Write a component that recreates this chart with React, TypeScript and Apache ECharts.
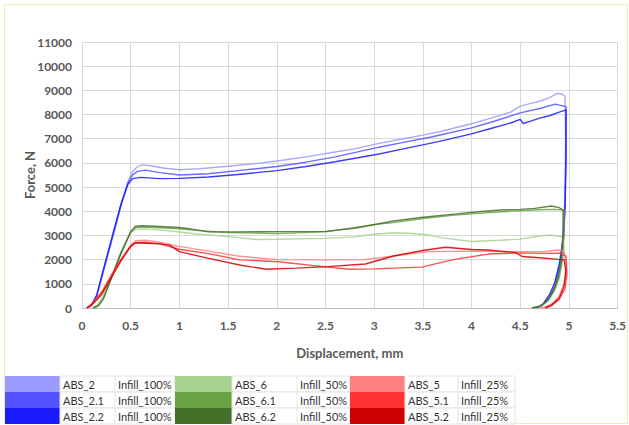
import React, { useEffect, useRef } from "react";
import * as echarts from "echarts";

// Force–displacement curves, [displacement mm, force N]
const abs2: number[][] = [
  [0.05, 0], [0.1, 120], [0.15, 450], [0.2, 1200], [0.3, 2700], [0.4, 4200], [0.47, 5200], [0.52, 5650],
  [0.57, 5850], [0.62, 5920], [0.7, 5880], [0.85, 5780], [1.0, 5720], [1.2, 5760], [1.5, 5860], [1.8, 5980],
  [2.0, 6080], [2.3, 6250], [2.6, 6450], [2.8, 6580], [3.05, 6810], [3.3, 7000], [3.5, 7150], [3.7, 7320],
  [4.0, 7620], [4.2, 7850], [4.4, 8100], [4.5, 8350], [4.6, 8450], [4.7, 8550], [4.8, 8700], [4.88, 8880],
  [4.93, 8850], [4.96, 8750], [4.965, 7000], [4.96, 5000], [4.95, 3200], [4.92, 1800], [4.87, 900],
  [4.8, 350], [4.72, 80], [4.65, 0],
];
const abs21: number[][] = [
  [0.05, 0], [0.1, 130], [0.15, 480], [0.2, 1250], [0.3, 2750], [0.4, 4250], [0.47, 5150], [0.52, 5500],
  [0.57, 5650], [0.65, 5700], [0.8, 5600], [1.0, 5500], [1.3, 5550], [1.6, 5680], [2.0, 5850], [2.3, 6030],
  [2.6, 6250], [3.05, 6650], [3.3, 6850], [3.6, 7080], [4.0, 7450], [4.2, 7680], [4.5, 8070], [4.7, 8250],
  [4.86, 8430], [4.97, 8330], [4.97, 6500], [4.96, 4500], [4.94, 3000], [4.91, 1900], [4.86, 950],
  [4.8, 450], [4.72, 100], [4.65, 0],
];
const abs22: number[][] = [
  [0.05, 0], [0.1, 150], [0.15, 520], [0.2, 1300], [0.3, 2800], [0.4, 4300], [0.47, 5100], [0.52, 5350],
  [0.6, 5400], [0.8, 5350], [1.0, 5360], [1.3, 5420], [1.6, 5520], [2.0, 5680], [2.3, 5850], [2.6, 6050],
  [3.05, 6370], [3.3, 6580], [3.66, 6880], [4.0, 7200], [4.17, 7390], [4.4, 7650], [4.5, 7800], [4.53, 7630],
  [4.6, 7720], [4.7, 7850], [4.8, 7950], [4.9, 8100], [4.97, 8190], [4.97, 6000], [4.96, 4000],
  [4.94, 2800], [4.9, 1800], [4.85, 1000], [4.8, 550], [4.73, 150], [4.66, 0],
];
const abs6: number[][] = [
  [0.1, 0], [0.15, 100], [0.2, 350], [0.3, 1300], [0.4, 2300], [0.5, 3100], [0.55, 3250], [0.65, 3270],
  [0.8, 3230], [1.0, 3140], [1.2, 3050], [1.5, 2950], [1.8, 2830], [2.0, 2840], [2.5, 2880], [2.8, 2940],
  [3.0, 3050], [3.2, 3110], [3.4, 3080], [3.56, 3020], [3.7, 2900], [4.0, 2750], [4.3, 2800], [4.5, 2850],
  [4.7, 2980], [4.8, 3020], [4.93, 2950], [4.95, 2500], [4.93, 1800], [4.9, 1200], [4.85, 700],
  [4.78, 300], [4.7, 80], [4.62, 0],
];
const abs61: number[][] = [
  [0.12, 0], [0.17, 120], [0.22, 400], [0.3, 1250], [0.4, 2300], [0.5, 3150], [0.55, 3330], [0.65, 3350],
  [0.8, 3320], [1.0, 3280], [1.2, 3200], [1.5, 3120], [2.0, 3080], [2.5, 3150], [3.0, 3450], [3.2, 3530],
  [3.5, 3700], [3.8, 3830], [4.07, 3915], [4.3, 3980], [4.5, 4020], [4.7, 4060], [4.85, 4080], [4.95, 4050],
  [4.95, 3000], [4.93, 2000], [4.9, 1300], [4.85, 750], [4.78, 300], [4.7, 70], [4.62, 0],
];
const abs62: number[][] = [
  [0.12, 0], [0.17, 100], [0.22, 380], [0.3, 1200], [0.4, 2250], [0.5, 3150], [0.55, 3380], [0.62, 3400],
  [0.8, 3370], [1.0, 3330], [1.1, 3280], [1.3, 3150], [1.6, 3150], [2.0, 3160], [2.5, 3170], [2.8, 3300],
  [3.2, 3600], [3.5, 3750], [3.8, 3870], [4.07, 3980], [4.3, 4050], [4.5, 4080], [4.65, 4120], [4.82, 4220],
  [4.9, 4150], [4.94, 4050], [4.94, 3000], [4.92, 2000], [4.89, 1300], [4.84, 700], [4.77, 250],
  [4.69, 50], [4.62, 0],
];
const abs5: number[][] = [
  [0.05, 0], [0.1, 150], [0.2, 600], [0.3, 1300], [0.4, 2000], [0.5, 2600], [0.55, 2780], [0.65, 2800],
  [0.8, 2720], [1.0, 2550], [1.3, 2350], [1.6, 2150], [2.0, 2000], [2.5, 1990], [2.9, 2000], [3.2, 2150],
  [3.56, 2330], [4.0, 2350], [4.5, 2330], [4.75, 2330], [4.88, 2400], [4.95, 2350], [4.97, 1800],
  [4.95, 1000], [4.9, 500], [4.83, 180], [4.75, 30], [4.7, 0],
];
const abs51: number[][] = [
  [0.05, 0], [0.1, 180], [0.2, 650], [0.3, 1350], [0.4, 2000], [0.5, 2550], [0.55, 2700], [0.65, 2720],
  [0.8, 2650], [1.0, 2430], [1.3, 2250], [1.62, 1990], [2.02, 1915], [2.52, 1690], [2.74, 1600], [3.0, 1620],
  [3.49, 1690], [3.8, 1990], [4.17, 2230], [4.5, 2280], [4.7, 2260], [4.9, 2270], [4.97, 2150], [4.98, 1400],
  [4.96, 800], [4.9, 350], [4.82, 100], [4.75, 0],
];
const abs52: number[][] = [
  [0.05, 0], [0.1, 120], [0.2, 550], [0.3, 1250], [0.4, 1950], [0.5, 2550], [0.55, 2700], [0.65, 2680],
  [0.8, 2650], [0.9, 2600], [1.0, 2330], [1.3, 2050], [1.62, 1780], [1.89, 1600], [2.2, 1650], [2.52, 1710],
  [2.91, 1820], [3.2, 2150], [3.5, 2380], [3.73, 2510], [4.0, 2420], [4.17, 2400], [4.45, 2290],
  [4.52, 2130], [4.7, 2080], [4.89, 2010], [4.95, 2000], [4.97, 1500], [4.95, 900], [4.9, 400],
  [4.82, 120], [4.76, 0],
];

const seriesNames = ["ABS_2", "ABS_2.1", "ABS_2.2", "ABS_6", "ABS_6.1", "ABS_6.2", "ABS_5", "ABS_5.1", "ABS_5.2"];
const infillLabels = ["Infill_100%", "Infill_100%", "Infill_100%", "Infill_50%", "Infill_50%", "Infill_50%", "Infill_25%", "Infill_25%", "Infill_25%"];
const seriesData = [abs2, abs21, abs22, abs6, abs61, abs62, abs5, abs51, abs52];
const colors = ["#9b9bff", "#5252ff", "#1a1aff", "#a9d18e", "#6aa343", "#466f2a", "#ff8080", "#ff3333", "#cc0000"];

const FONT = "Lato, 'Open Sans', sans-serif";

export default function App() {
  const ref = useRef<HTMLDivElement>(null);

  useEffect(() => {
    if (!ref.current) return;
    const chart = echarts.init(ref.current, null, { renderer: "svg" });

    // Legend table: three groups of swatch | name | infill
    const colX = [5, 175, 350];
    const colW = [55, 57, 55];
    const nameW = [55, 65, 53];
    const infW = [60, 53, 57];
    const rowTop = 376;
    const rowH = 16;
    const graphics: any[] = [];
    graphics.push({
      type: "rect",
      shape: { x: 4.5, y: 4.5, width: 623, height: 419 },
      style: { fill: "none", stroke: "#f3eeb0", lineWidth: 1 },
      silent: true,
    });
    seriesNames.forEach((name, i) => {
      const g = Math.floor(i / 3);
      const r = i % 3;
      const x0 = colX[g];
      const y0 = rowTop + r * rowH;
      const sw = colW[g];
      const nw = nameW[g];
      const iw = infW[g];
      graphics.push({
        type: "rect",
        shape: { x: x0, y: y0, width: sw, height: rowH },
        style: { fill: colors[i] },
        silent: true,
      });
      graphics.push({
        type: "rect",
        shape: { x: x0 + sw, y: y0, width: nw + iw, height: rowH },
        style: { fill: "#ffffff", stroke: "#e4e4e4", lineWidth: 1 },
        silent: true,
      });
      graphics.push({
        type: "line",
        shape: { x1: x0 + sw + nw, y1: y0, x2: x0 + sw + nw, y2: y0 + rowH },
        style: { stroke: "#e4e4e4", lineWidth: 1 },
        silent: true,
      });
      graphics.push({
        type: "text",
        x: x0 + sw + 3,
        y: y0 + rowH / 2,
        style: { text: name, font: `11px ${FONT}`, fill: "#333333", verticalAlign: "middle" },
        silent: true,
      });
      graphics.push({
        type: "text",
        x: x0 + sw + nw + 3,
        y: y0 + rowH / 2,
        style: { text: infillLabels[i], font: `11px ${FONT}`, fill: "#333333", verticalAlign: "middle" },
        silent: true,
      });
    });

    chart.setOption({
      animation: false,
      backgroundColor: "#ffffff",
      grid: { left: 82, right: 9, top: 42, bottom: 117, containLabel: false },
      xAxis: {
        type: "value",
        min: 0,
        max: 5.5,
        interval: 0.5,
        name: "Displacement, mm",
        nameLocation: "middle",
        nameGap: 38,
        nameTextStyle: { fontFamily: FONT, fontSize: 13, fontWeight: "bold", color: "#595959" },
        axisLine: { show: true, lineStyle: { color: "#bfbfbf" } },
        axisTick: { show: false },
        axisLabel: { fontFamily: FONT, fontSize: 12, fontWeight: "bold", color: "#595959", margin: 11 },
        splitLine: { show: true, lineStyle: { color: "#d9d9d9" } },
      },
      yAxis: {
        type: "value",
        min: 0,
        max: 11000,
        interval: 1000,
        name: "Force, N",
        nameLocation: "middle",
        nameGap: 46,
        nameMoveOverlap: false,
        nameTextStyle: { fontFamily: FONT, fontSize: 13, fontWeight: "bold", color: "#595959" },
        axisLine: { show: false },
        axisTick: { show: false },
        axisLabel: {
          fontFamily: FONT,
          fontSize: 12,
          fontWeight: "bold",
          color: "#595959",
          margin: 10,
          formatter: (v: number) => String(v),
        },
        splitLine: { show: true, lineStyle: { color: "#d9d9d9" } },
      },
      series: seriesNames.map((name, i) => ({
        name,
        type: "line",
        data: seriesData[i],
        showSymbol: false,
        smooth: false,
        lineStyle: { color: colors[i], width: 1.4, opacity: 0.85 },
        itemStyle: { color: colors[i] },
      })),
      graphic: graphics,
    });

    return () => chart.dispose();
  }, []);

  return (
    <div
      ref={ref}
      style={{ position: "absolute", left: 0, top: 0, width: 629, height: 425 }}
    />
  );
}
